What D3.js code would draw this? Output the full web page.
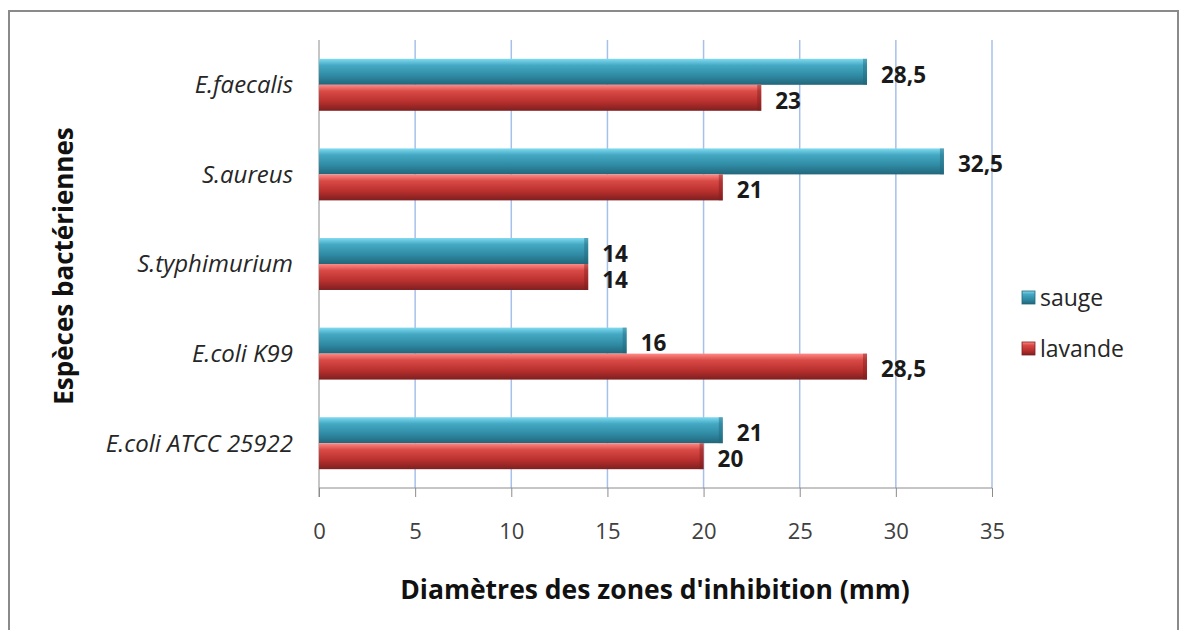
<!DOCTYPE html>
<html>
<head>
<meta charset="utf-8">
<script src="https://cdn.jsdelivr.net/npm/d3@7"></script>
<style>
  body { margin: 0; background: #fff; }
  svg { font-family: "Open Sans", Lato, sans-serif; }
</style>
</head>
<body>
<div id="chart"></div>
<script>
const categories = ["E.faecalis", "S.aureus", "S.typhimurium", "E.coli K99", "E.coli ATCC 25922"];
const seriesNames = ["sauge", "lavande"];
const sauge = [28.5, 32.5, 14, 16, 21];
const lavande = [23, 21, 14, 28.5, 20];
const xTicks = [0, 5, 10, 15, 20, 25, 30, 35];

const W = 1183, H = 630;
const plot = {left: 319, right: 992, top: 40, bottom: 488};

const svg = d3.select("#chart").append("svg")
    .attr("width", W)
    .attr("height", H);

// outer frame (bottom edge off-picture)
svg.append("path")
    .attr("d", "M9,640 V11 H1178 V640")
    .attr("fill", "none")
    .attr("stroke", "#8a8a8a")
    .attr("stroke-width", 2);

const x = d3.scaleLinear().domain([0, 35]).range([plot.left, plot.right]);
const y0 = d3.scaleBand().domain(categories)
    .range([plot.top, plot.bottom])
    .paddingInner(0.42).paddingOuter(0.21);
const y1 = d3.scaleBand().domain(seriesNames).range([0, y0.bandwidth()]);

const colors = {
    sauge: ["#7fdaf0", "#45a9c4", "#2f8aa3", "#22667a"],
    lavande: ["#ff8a86", "#d94a46", "#b8302e", "#7e1f1f"]
};

const defs = svg.append("defs");
seriesNames.forEach(function (s) {
    const g = defs.append("linearGradient")
        .attr("id", "grad-" + s)
        .attr("x1", 0).attr("x2", 0).attr("y1", 0).attr("y2", 1);
    g.append("stop").attr("offset", "0%").attr("stop-color", colors[s][0]);
    g.append("stop").attr("offset", "25%").attr("stop-color", colors[s][1]);
    g.append("stop").attr("offset", "65%").attr("stop-color", colors[s][2]);
    g.append("stop").attr("offset", "100%").attr("stop-color", colors[s][3]);
});

// gridlines
svg.append("g")
    .selectAll("line")
    .data(xTicks.slice(1))
    .enter().append("line")
    .attr("x1", d => x(d)).attr("x2", d => x(d))
    .attr("y1", plot.top).attr("y2", plot.bottom)
    .attr("stroke", "#a6c0ea")
    .attr("stroke-width", 1.5);

// floor / left wall
svg.append("line")
    .attr("x1", plot.left).attr("x2", plot.left)
    .attr("y1", plot.top).attr("y2", plot.bottom + 9)
    .attr("stroke", "#8c8c8c");
svg.append("line")
    .attr("x1", plot.left).attr("x2", plot.right)
    .attr("y1", plot.bottom).attr("y2", plot.bottom)
    .attr("stroke", "#8c8c8c");

// x axis
const xAxis = svg.append("g")
    .attr("transform", "translate(0," + plot.bottom + ")")
    .call(d3.axisBottom(x).tickValues(xTicks).tickSize(9).tickPadding(26));
xAxis.select(".domain").remove();
xAxis.selectAll("line").attr("stroke", "#8c8c8c");
xAxis.selectAll("text")
    .attr("font-size", 22)
    .attr("fill", "#404040")
    .attr("font-family", "'Open Sans', sans-serif");

// category labels
svg.append("g")
    .selectAll("text")
    .data(categories)
    .enter().append("text")
    .attr("x", 293)
    .attr("y", d => y0(d) + y0.bandwidth() / 2)
    .attr("dy", "0.35em")
    .attr("text-anchor", "end")
    .attr("font-style", "italic")
    .attr("font-size", 24)
    .attr("fill", "#262626")
    .text(d => d);

// bars
const rows = [];
categories.forEach(function (c, i) {
    rows.push({cat: c, series: "sauge", value: sauge[i]});
    rows.push({cat: c, series: "lavande", value: lavande[i]});
});

const fmt = d3.formatLocale({decimal: ",", thousands: " ", grouping: [3], currency: ["", ""]}).format("~g");

const bars = svg.append("g").selectAll("g")
    .data(rows)
    .enter().append("g");

bars.append("rect")
    .attr("x", x(0))
    .attr("y", d => y0(d.cat) + y1(d.series))
    .attr("width", d => x(d.value) - x(0))
    .attr("height", y1.bandwidth())
    .attr("fill", d => "url(#grad-" + d.series + ")");

// end cap shading for a 3D look
bars.append("rect")
    .attr("x", d => x(d.value) - 4)
    .attr("y", d => y0(d.cat) + y1(d.series))
    .attr("width", 4)
    .attr("height", y1.bandwidth())
    .attr("fill", d => colors[d.series][3])
    .attr("opacity", 0.45);

bars.append("text")
    .attr("x", d => x(d.value) + 14)
    .attr("y", d => y0(d.cat) + y1(d.series) + y1.bandwidth() / 2 + 3)
    .attr("dy", "0.35em")
    .attr("font-size", 22.5)
    .attr("font-weight", "bold")
    .attr("fill", "#1a1a1a")
    .text(d => fmt(d.value));

// axis titles
svg.append("text")
    .attr("transform", "translate(73,266) rotate(-90)")
    .attr("text-anchor", "middle")
    .attr("font-size", 26)
    .attr("font-weight", "bold")
    .attr("fill", "#111")
    .text("Espèces bactériennes");

svg.append("text")
    .attr("x", 655)
    .attr("y", 599)
    .attr("text-anchor", "middle")
    .attr("font-size", 26.5)
    .attr("font-weight", "bold")
    .attr("fill", "#111")
    .text("Diamètres des zones d'inhibition  (mm)");

// legend
const legend = svg.append("g")
    .selectAll("g")
    .data(seriesNames)
    .enter().append("g")
    .attr("transform", (d, i) => "translate(1022," + (291 + i * 51) + ")");
legend.append("rect")
    .attr("width", 13).attr("height", 13)
    .attr("fill", d => "url(#grad-" + d + ")")
    .attr("stroke", d => colors[d][3])
    .attr("stroke-width", 0.8);
legend.append("text")
    .attr("x", 18)
    .attr("y", 7)
    .attr("dy", "0.35em")
    .attr("font-size", 23)
    .attr("fill", "#262626")
    .text(d => d);
</script>
</body>
</html>
